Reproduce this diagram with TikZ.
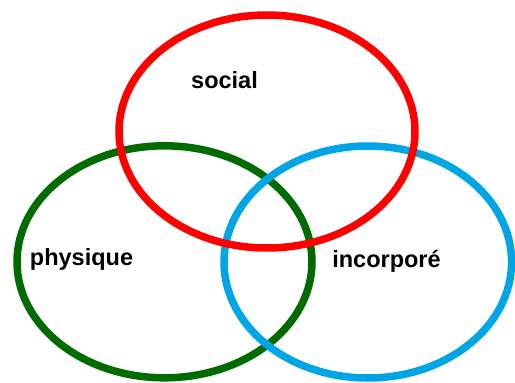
\documentclass[tikz,border=0pt]{standalone}
\usepackage{fontspec}
\setmainfont{Liberation Sans}
\definecolor{ringred}{RGB}{255,0,0}
\definecolor{ringgreen}{RGB}{0,108,0}
\definecolor{ringblue}{RGB}{0,165,230}
\begin{document}
\begin{tikzpicture}[x=1pt,y=-1pt,
  ring/.style={line width=7.5pt},
  lbl/.style={inner sep=0pt,anchor=base,font=\fontsize{23.5}{28}\selectfont\bfseries}]
\useasboundingbox (0,0) rectangle (515,383);
% the three overlapping rings, red drawn last so it lies on top
\draw[ring,ringgreen] (164.5,261.8) ellipse [x radius=147.5, y radius=116];
\draw[ring,ringblue]  (367.8,262)   ellipse [x radius=143.8, y radius=116];
\draw[ring,ringred]   (267,131.5)   ellipse [x radius=148,   y radius=116.5];
% labels
\node[lbl] (social)    at (224.5,88)  {social};
\node[lbl] (physique)  at (81.5,265)  {physique};
\node[lbl] (incorpore) at (386.5,267) {incorporé};
\end{tikzpicture}
\end{document}
